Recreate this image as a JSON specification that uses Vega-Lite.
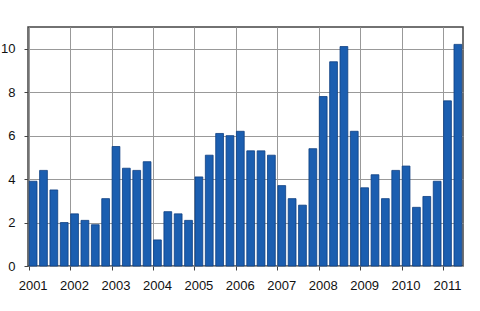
{
  "$schema": "https://vega.github.io/schema/vega-lite/v6.json",
  "width": 435,
  "height": 239,
  "autosize": {"type": "none"},
  "padding": {"left": 28, "top": 27, "right": 17, "bottom": 45},
  "background": "white",
  "config": {
    "view": {"stroke": "#444", "strokeWidth": 1.5},
    "font": "Liberation Sans",
    "axis": {"labelFont": "Liberation Sans", "labelFontSize": 13, "labelColor": "#111", "domain": false, "tickColor": "#444", "tickSize": 4, "gridColor": "#999", "gridWidth": 1, "gridOpacity": 1}
  },
  "data": {
    "values": [
      {"q": "2001-1", "v": 3.9}, {"q": "2001-2", "v": 4.4}, {"q": "2001-3", "v": 3.5}, {"q": "2001-4", "v": 2.0},
      {"q": "2002-1", "v": 2.4}, {"q": "2002-2", "v": 2.1}, {"q": "2002-3", "v": 1.9}, {"q": "2002-4", "v": 3.1},
      {"q": "2003-1", "v": 5.5}, {"q": "2003-2", "v": 4.5}, {"q": "2003-3", "v": 4.4}, {"q": "2003-4", "v": 4.8},
      {"q": "2004-1", "v": 1.2}, {"q": "2004-2", "v": 2.5}, {"q": "2004-3", "v": 2.4}, {"q": "2004-4", "v": 2.1},
      {"q": "2005-1", "v": 4.1}, {"q": "2005-2", "v": 5.1}, {"q": "2005-3", "v": 6.1}, {"q": "2005-4", "v": 6.0},
      {"q": "2006-1", "v": 6.2}, {"q": "2006-2", "v": 5.3}, {"q": "2006-3", "v": 5.3}, {"q": "2006-4", "v": 5.1},
      {"q": "2007-1", "v": 3.7}, {"q": "2007-2", "v": 3.1}, {"q": "2007-3", "v": 2.8}, {"q": "2007-4", "v": 5.4},
      {"q": "2008-1", "v": 7.8}, {"q": "2008-2", "v": 9.4}, {"q": "2008-3", "v": 10.1}, {"q": "2008-4", "v": 6.2},
      {"q": "2009-1", "v": 3.6}, {"q": "2009-2", "v": 4.2}, {"q": "2009-3", "v": 3.1}, {"q": "2009-4", "v": 4.4},
      {"q": "2010-1", "v": 4.6}, {"q": "2010-2", "v": 2.7}, {"q": "2010-3", "v": 3.2}, {"q": "2010-4", "v": 3.9},
      {"q": "2011-1", "v": 7.6}, {"q": "2011-2", "v": 10.2}
    ]
  },
  "mark": {"type": "bar", "color": "#1b5eb0", "stroke": "#0e3f82", "strokeWidth": 0.8},
  "encoding": {
    "x": {
      "field": "q", "type": "ordinal", "sort": null, "title": null,
      "scale": {"paddingInner": 0.25, "paddingOuter": 0.12},
      "axis": {
        "bandPosition": 0,
        "values": ["2001-1","2002-1","2003-1","2004-1","2005-1","2006-1","2007-1","2008-1","2009-1","2010-1","2011-1"],
        "labelExpr": "slice(datum.value, 0, 4)",
        "labelAngle": 0, "labelPadding": 9, "grid": true
      }
    },
    "y": {
      "field": "v", "type": "quantitative", "title": null,
      "scale": {"domain": [0, 11], "nice": false},
      "axis": {"values": [0, 2, 4, 6, 8, 10], "labelPadding": 9, "grid": true}
    }
  }
}
